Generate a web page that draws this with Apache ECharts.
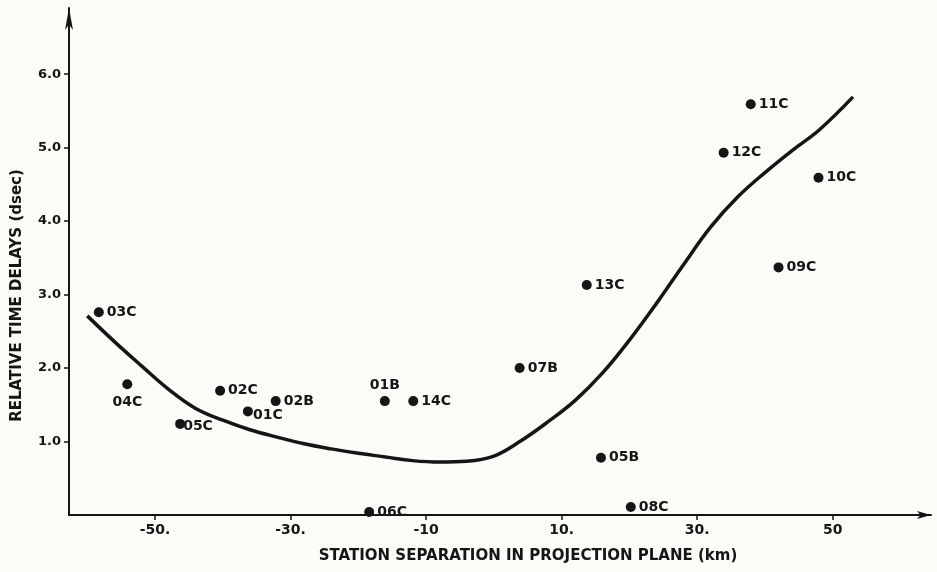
<!DOCTYPE html>
<html>
<head>
<meta charset="utf-8">
<script src="https://cdn.jsdelivr.net/npm/echarts@6/dist/echarts.min.js"></script>
<style>
html,body{margin:0;padding:0;background:#fbfbf8;}
#c{width:937px;height:572px;}
</style>
</head>
<body>
<div id="c"></div>
<script>
// Station data
const stationNames = ['03C','04C','05C','02C','01C','02B','01B','14C','06C','07B','13C','05B','08C','12C','11C','10C','09C'];
const stationX = [-58.3,-54.1,-46.3,-40.4,-36.3,-32.2,-16.1,-11.9,-18.4,3.8,13.7,15.8,20.2,33.9,37.9,47.9,42.0];
const stationY = [2.76,1.78,1.24,1.69,1.41,1.55,1.55,1.55,0.04,2.00,3.13,0.78,0.11,4.93,5.59,4.59,3.37];

// Fitted curve
const curveX = [-60,-56,-52,-48,-44,-40,-36,-32,-28,-24,-20,-16,-12,-8,-4,0,4,8,12,16,20,24,28,32,36,40,44,48,53];
const curveY = [2.71,2.36,2.03,1.71,1.45,1.29,1.16,1.06,0.97,0.90,0.84,0.79,0.74,0.72,0.73,0.80,1.01,1.27,1.56,1.93,2.38,2.88,3.41,3.92,4.33,4.66,4.96,5.24,5.69];

// Tick labels
const xTickValues = [-50,-30,-10,10,30,50];
const xTickLabels = ['-50.','-30.','-10','10.','30.','50'];
const yTickValues = [1,2,3,4,5,6];
const yTickLabels = ['1.0','2.0','3.0','4.0','5.0','6.0'];

// label placement (style only)
const labelPos = {
  '04C': {position: 'bottom', distance: 6},
  '01C': {position: [10, 2]},
  '01B': {position: 'top', distance: 4},
  '05C': {position: [8, 0]}
};

const FONT = '"DejaVu Sans", sans-serif';
const INK = '#151515';

const scatterData = stationNames.map((n, i) => {
  const d = {value: [stationX[i], stationY[i]], name: n};
  if (labelPos[n]) d.label = labelPos[n];
  return d;
});
const curveData = curveX.map((x, i) => [x, curveY[i]]);

const chart = echarts.init(document.getElementById('c'));
chart.setOption({
  backgroundColor: '#fbfbf8',
  animation: false,
  grid: {left: 69, right: 6, top: 8, bottom: 57},
  xAxis: {
    type: 'value', min: -62.7, max: 64.5,
    splitLine: {show: false},
    axisLine: {onZero: false, symbol: ['none', 'arrow'], symbolSize: [6, 14], lineStyle: {color: INK, width: 2}},
    axisTick: {customValues: xTickValues, length: 5, lineStyle: {color: INK, width: 1.5}},
    axisLabel: {
      customValues: xTickValues,
      formatter: v => xTickLabels[xTickValues.indexOf(Math.round(v))] || '',
      color: INK, fontFamily: FONT, fontWeight: 'bold', fontSize: 14, margin: 8
    },
    name: 'STATION SEPARATION IN PROJECTION PLANE (km)',
    nameLocation: 'middle', nameGap: 34,
    nameTextStyle: {color: INK, fontFamily: FONT, fontWeight: 'bold', fontSize: 15, padding: [0, 0, 0, 56]}
  },
  yAxis: {
    type: 'value', min: 0, max: 6.9,
    splitLine: {show: false},
    axisLine: {onZero: false, symbol: ['none', 'arrow'], symbolSize: [6, 22], lineStyle: {color: INK, width: 2}},
    axisTick: {customValues: yTickValues, length: 5, lineStyle: {color: INK, width: 1.5}},
    axisLabel: {
      customValues: yTickValues,
      formatter: v => yTickLabels[yTickValues.indexOf(Math.round(v))] || '',
      color: INK, fontFamily: FONT, fontWeight: 'bold', fontSize: 13, margin: 8
    },
    name: 'RELATIVE TIME DELAYS (dsec)',
    nameLocation: 'middle', nameGap: 44, nameRotate: 90,
    nameTextStyle: {color: INK, fontFamily: FONT, fontWeight: 'bold', fontSize: 15, padding: [0, 68, 0, 0]}
  },
  series: [
    {
      type: 'line', data: curveData, smooth: 0.4, showSymbol: false, symbol: 'none',
      lineStyle: {color: INK, width: 3.5}, z: 2
    },
    {
      type: 'scatter', data: scatterData, symbolSize: 10,
      itemStyle: {color: INK, opacity: 1},
      label: {
        show: true, position: 'right', distance: 3, formatter: '{b}',
        color: INK, fontFamily: FONT, fontWeight: 'bold', fontSize: 14
      },
      z: 3
    }
  ]
});
</script>
</body>
</html>
